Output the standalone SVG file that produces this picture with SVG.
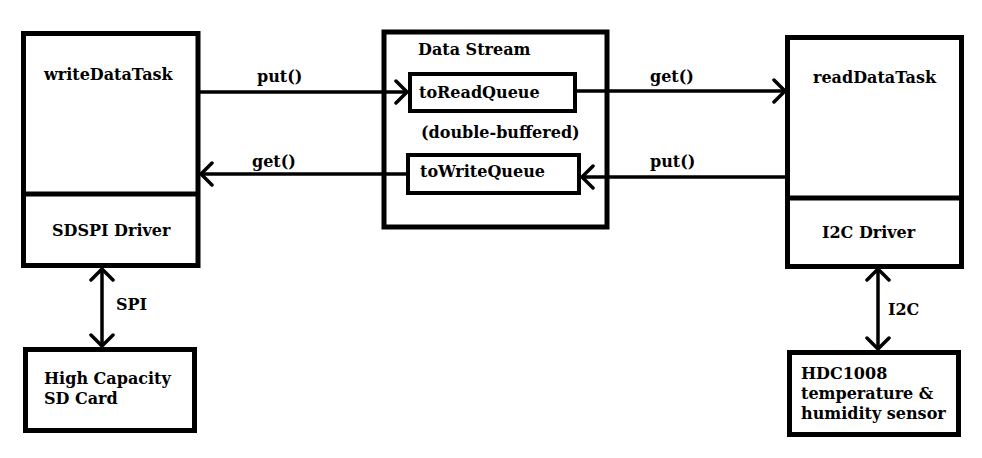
<svg xmlns="http://www.w3.org/2000/svg" width="982" height="458" viewBox="0 0 982 458">
<style>
.box{fill:#fff;stroke:#000;stroke-width:5}
.q{fill:#fff;stroke:#000;stroke-width:4}
.div{stroke:#000;stroke-width:5}
.t{font-family:"DejaVu Serif","Liberation Serif",serif;font-weight:bold;font-size:16px;fill:#000}
.c{stroke:#000;stroke-width:3.5;fill:none}
</style>
<defs>
<marker id="ah" viewBox="-14 -14 16 28" refX="0" refY="0" markerWidth="16" markerHeight="28" markerUnits="userSpaceOnUse" orient="auto-start-reverse">
<path d="M-11,-11 L0,0 L-11,11" fill="none" stroke="#000" stroke-width="3.5" stroke-linecap="round" stroke-linejoin="round"/>
</marker>
</defs>
<rect width="982" height="458" fill="#fff"/>
<g id="writeDataTask">
<rect class="box" x="23.5" y="33.5" width="174.5" height="232"/>
<line class="div" x1="23.5" y1="194" x2="198" y2="194"/>
<text class="t" x="44" y="80">writeDataTask</text>
<text class="t" x="52" y="236">SDSPI Driver</text>
</g>
<g id="dataStream">
<rect class="box" x="384" y="32" width="223" height="195"/>
<text class="t" x="418" y="55">Data Stream</text>
<text class="t" x="421" y="138">(double-buffered)</text>
</g>
<g id="toReadQueue">
<rect class="q" x="410" y="74" width="165" height="37"/>
<text class="t" x="419" y="98">toReadQueue</text>
</g>
<g id="toWriteQueue">
<rect class="q" x="408" y="155" width="171" height="38"/>
<text class="t" x="420" y="177">toWriteQueue</text>
</g>
<g id="readDataTask">
<rect class="box" x="787.5" y="37.5" width="174" height="229"/>
<line class="div" x1="787.5" y1="198" x2="961.5" y2="198"/>
<text class="t" x="813" y="83">readDataTask</text>
<text class="t" x="822" y="238">I2C Driver</text>
</g>
<g id="sdCard">
<rect class="box" x="25.5" y="349.5" width="169" height="81"/>
<text class="t" x="44" y="384">High Capacity</text>
<text class="t" x="44" y="404">SD Card</text>
</g>
<g id="hdc1008">
<rect class="box" x="789.5" y="352.5" width="169" height="82"/>
<text class="t" x="801" y="379">HDC1008</text>
<text class="t" x="801" y="399">temperature &amp;</text>
<text class="t" x="801" y="419">humidity sensor</text>
</g>
<g id="connectors">
<line class="c" x1="200" y1="92" x2="407" y2="92" marker-end="url(#ah)"/>
<text class="t" x="257" y="82">put()</text>
<line class="c" x1="406" y1="174" x2="201" y2="174" marker-end="url(#ah)"/>
<text class="t" x="252" y="167">get()</text>
<line class="c" x1="577" y1="91" x2="785" y2="91" marker-end="url(#ah)"/>
<text class="t" x="650" y="82">get()</text>
<line class="c" x1="785" y1="177" x2="582" y2="177" marker-end="url(#ah)"/>
<text class="t" x="650" y="167">put()</text>
<line class="c" x1="102" y1="269" x2="102" y2="346" marker-start="url(#ah)" marker-end="url(#ah)"/>
<text class="t" x="116" y="310">SPI</text>
<line class="c" x1="878" y1="269" x2="878" y2="349" marker-start="url(#ah)" marker-end="url(#ah)"/>
<text class="t" x="888" y="315">I2C</text>
</g>
</svg>
